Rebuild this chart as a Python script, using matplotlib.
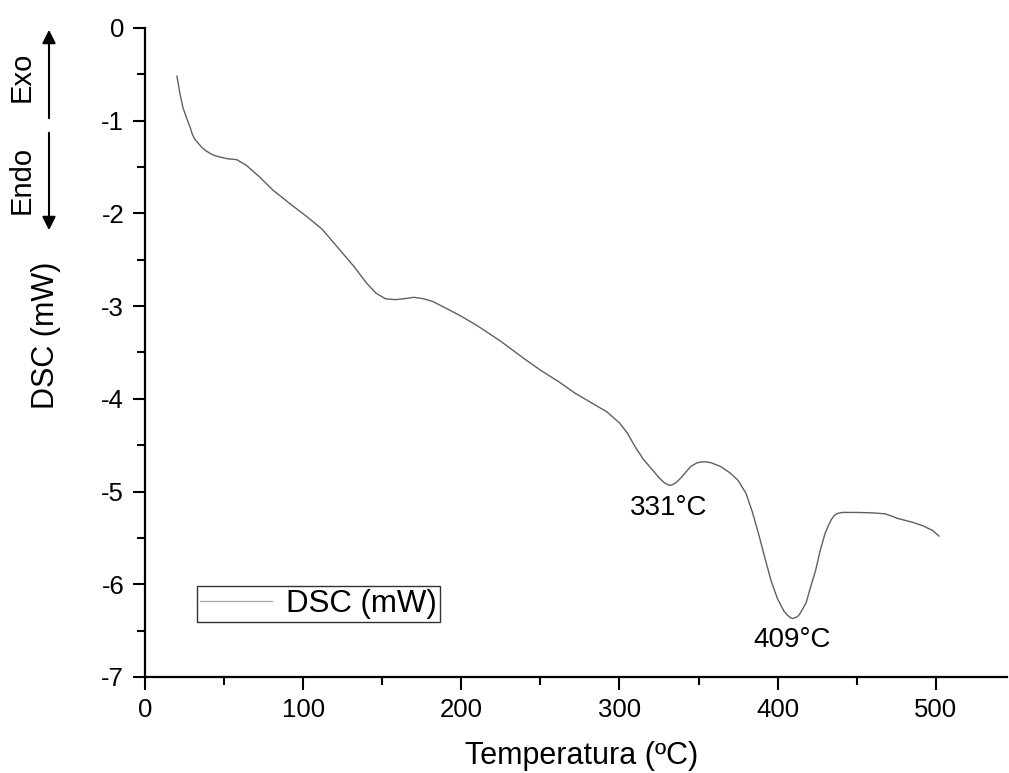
import matplotlib
matplotlib.use("Agg")
import matplotlib.pyplot as plt
from matplotlib.ticker import MultipleLocator

plt.rcParams['font.family'] = ['Liberation Sans', 'DejaVu Sans']
plt.rcParams['axes.unicode_minus'] = False

# DSC curve
temp = [20.2, 22, 24, 26.5, 28.5, 30, 31.5, 33.5, 36, 39, 43, 47, 52, 58, 64,
        72, 81, 92, 102, 112, 123, 132, 140, 146, 152, 158, 164, 170, 176, 182,
        190, 199, 210, 225, 240, 250, 262, 272, 283, 292, 300, 305, 310, 315,
        321, 325, 328, 331, 333, 336, 339, 342, 345, 349, 352, 355, 358, 364,
        370, 375, 380, 384, 388, 392, 396, 400, 404, 406, 408, 409.5, 411,
        412.5, 414, 418, 421, 424, 427, 430, 432, 434, 436, 438, 441, 450, 460,
        468, 476, 485, 492, 498, 502]
dsc = [-0.52, -0.70, -0.86, -0.98, -1.07, -1.15, -1.20, -1.24, -1.29, -1.33,
       -1.37, -1.39, -1.41, -1.42, -1.48, -1.60, -1.75, -1.90, -2.03, -2.17,
       -2.39, -2.57, -2.75, -2.86, -2.92, -2.93, -2.92, -2.905, -2.92, -2.95,
       -3.02, -3.10, -3.21, -3.38, -3.57, -3.69, -3.82, -3.94, -4.05, -4.14,
       -4.26, -4.37, -4.52, -4.65, -4.77, -4.85, -4.90, -4.93, -4.93, -4.90,
       -4.85, -4.79, -4.73, -4.69, -4.68, -4.68, -4.69, -4.73, -4.80, -4.88,
       -5.02, -5.22, -5.46, -5.72, -5.97, -6.16, -6.29, -6.33, -6.36, -6.37,
       -6.36, -6.35, -6.32, -6.20, -6.02, -5.85, -5.63, -5.45, -5.37, -5.30,
       -5.255, -5.235, -5.225, -5.225, -5.23, -5.24, -5.29, -5.33, -5.37,
       -5.42, -5.48]

peak_labels = ["331°C", "409°C"]
peak_x = [331, 409]
peak_y = [-5.18, -6.6]

fig = plt.figure(figsize=(10.09, 7.73), dpi=100)
ax = fig.add_axes([0.1437, 0.1242, 0.8543, 0.8396])

ax.plot(temp, dsc, color='#606060', lw=1.0, label='DSC (mW)')

for lab, px, py in zip(peak_labels, peak_x, peak_y):
    ax.text(px, py, lab, fontsize=20, ha='center', va='center')

ax.set_xlim(0, 545)
ax.set_ylim(-7, 0)
ax.xaxis.set_major_locator(MultipleLocator(100))
ax.xaxis.set_minor_locator(MultipleLocator(50))
ax.yaxis.set_major_locator(MultipleLocator(1))
ax.yaxis.set_minor_locator(MultipleLocator(0.5))

for s in ['top', 'right']:
    ax.spines[s].set_visible(False)
for s in ['left', 'bottom']:
    ax.spines[s].set_linewidth(1.6)

ax.tick_params(which='major', direction='out', length=9, width=1.5,
               labelsize=18.5, pad=6)
ax.tick_params(which='minor', direction='out', length=6, width=1.5)

ax.set_xlabel('Temperatura (ºC)', fontsize=22)
ax.set_ylabel('DSC (mW)', fontsize=22)
ax.xaxis.set_label_coords(0.507, -0.098)
ax.yaxis.set_label_coords(-0.098, 0.527)

leg = ax.legend(loc='lower left', bbox_to_anchor=(0.06, 0.085),
                borderaxespad=0, fontsize=22.5, fancybox=False,
                edgecolor='black', handlelength=2.3, handletextpad=0.45,
                borderpad=0.1)
leg.get_frame().set_linewidth(1.0)
leg.get_lines()[0].set_color('#b0b0b0')

# Exo / Endo indicator
fig.text(22 / 1009, 1 - 77 / 773, 'Exo', rotation=90, fontsize=21,
         ha='center', va='center')
fig.text(22 / 1009, 1 - 180 / 773, 'Endo', rotation=90, fontsize=21,
         ha='center', va='center')
fig.add_artist(matplotlib.patches.FancyArrowPatch(
    (49 / 1009, 1 - 121 / 773), (49 / 1009, 1 - 27 / 773),
    transform=fig.transFigure, arrowstyle='-|>', mutation_scale=20,
    color='black', lw=1.5))
fig.add_artist(matplotlib.patches.FancyArrowPatch(
    (49 / 1009, 1 - 130 / 773), (49 / 1009, 1 - 233 / 773),
    transform=fig.transFigure, arrowstyle='-|>', mutation_scale=20,
    color='black', lw=1.5))

fig.savefig('out.png', dpi=100)
